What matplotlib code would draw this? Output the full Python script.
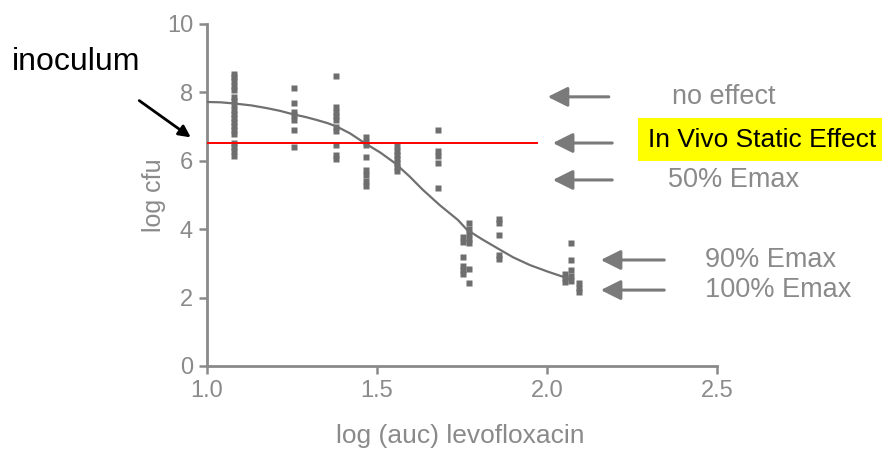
import matplotlib
matplotlib.use("Agg")
import matplotlib.pyplot as plt
from matplotlib.patches import FancyArrowPatch, Rectangle

plt.rcParams['font.family'] = ['Liberation Sans', 'DejaVu Sans']

GRAY = '#8a8a8a'
MARK = '#6e6e6e'

# measured log cfu per dose group (x = log auc)
group_x = [1.08, 1.256, 1.379, 1.468, 1.558, 1.68, 1.77, 1.752, 1.859, 2.07, 2.053, 2.094]
group_y = [
    [8.55, 8.44, 8.32, 8.2, 8.08, 7.86, 7.74, 7.62, 7.5, 7.38, 7.26, 7.14, 7.02, 6.9, 6.78,
     6.52, 6.4, 6.28, 6.15],
    [8.12, 7.7, 7.44, 7.34, 7.19, 6.9, 6.4],
    [8.49, 7.56, 7.44, 7.32, 7.2, 7.0, 6.88, 6.46, 6.17, 6.04],
    [6.7, 6.55, 6.46, 6.1, 5.73, 5.58, 5.4, 5.25],
    [6.42, 6.3, 6.18, 6.06, 5.94, 5.82, 5.7],
    [6.9, 6.3, 6.15, 5.93, 5.2],
    [4.17, 4.0, 3.85, 3.7, 3.6, 2.83, 2.42],
    [3.78, 3.62, 3.2, 2.93, 2.8, 2.68],
    [4.3, 4.18, 3.83, 3.24, 3.12],
    [3.6, 3.1, 2.8, 2.62, 2.5],
    [2.7, 2.58, 2.46],
    [2.42, 2.28, 2.15],
]

# fitted Emax curve
curve_x = [1.0, 1.04, 1.076, 1.13, 1.176, 1.215, 1.253, 1.29, 1.324, 1.355, 1.382, 1.421,
           1.465, 1.51, 1.553, 1.595, 1.635, 1.685, 1.738, 1.765, 1.81, 1.853, 1.9,
           1.95, 2.005, 2.059, 2.07]
curve_y = [7.72, 7.71, 7.68, 7.62, 7.54, 7.46, 7.36, 7.28, 7.19, 7.1, 7.0, 6.8,
           6.51, 6.24, 5.93, 5.55, 5.15, 4.7, 4.27, 3.98, 3.7, 3.45, 3.18,
           2.95, 2.75, 2.57, 2.53]

static_effect = 6.51

# right-hand reference arrows: (y, tip x, tail x, label, label x)
ref_y = [7.87, 6.52, 5.44, 3.1, 2.22]
ref_tip = [1.994, 2.009, 2.009, 2.15, 2.15]
ref_tail = [2.19, 2.2, 2.2, 2.353, 2.353]
ref_labels = ['no effect', None, '50% Emax', '90% Emax', '100% Emax']
ref_label_x = [2.368, None, 2.356, 2.465, 2.465]

fig = plt.figure(figsize=(8.82, 4.5), dpi=100)
ax = fig.add_axes([207 / 882, 84 / 450, 510 / 882, 342 / 450])

for gx, ys in zip(group_x, group_y):
    ax.plot([gx] * len(ys), ys, 's', ms=5, color=MARK, mec='none', zorder=2)

ax.plot(curve_x, curve_y, color='#707070', lw=1.6, zorder=3)
ax.plot([1.0, 1.97], [static_effect, static_effect], color='red', lw=1.4, zorder=4)

for y, tip, tail, lab, lx in zip(ref_y, ref_tip, ref_tail, ref_labels, ref_label_x):
    arr = FancyArrowPatch((tail, y), (tip, y), arrowstyle='-|>,head_length=12,head_width=6',
                          mutation_scale=1, color='#7a7a7a', lw=2.2, clip_on=False)
    ax.add_patch(arr)
    if lab:
        ax.text(lx, y, lab, fontsize=19.5, color=GRAY, va='center', ha='left', clip_on=False)

ax.set_xlim(1.0, 2.5)
ax.set_ylim(0, 10)
ax.set_xticks([1.0, 1.5, 2.0, 2.5])
ax.set_xticklabels(['1.0', '1.5', '2.0', '2.5'])
ax.set_yticks([0, 2, 4, 6, 8, 10])
for s in ['top', 'right']:
    ax.spines[s].set_visible(False)
for s in ['left', 'bottom']:
    ax.spines[s].set_color(GRAY)
    ax.spines[s].set_linewidth(2)
ax.tick_params(direction='out', length=6, width=1.8, color=GRAY, labelcolor=GRAY,
               labelsize=17, pad=4)
ax.set_xlabel('log (auc) levofloxacin', fontsize=19, color=GRAY)
ax.set_ylabel('log cfu', fontsize=18, color=GRAY)
ax.xaxis.set_label_coords(0.496, -0.17)
ax.yaxis.set_label_coords(-0.08, 0.5)

# yellow label box and inoculum annotation (figure pixels)
W, H = 882, 450
fig.patches.append(Rectangle((638 / W, 1 - 161 / H), 244 / W, 43 / H,
                             transform=fig.transFigure, facecolor='#ffff00',
                             edgecolor='none', zorder=5))
fig.text(648 / W, 1 - 140 / H, 'In Vivo Static Effect', fontsize=19, color='black',
         va='center', ha='left', zorder=6)
fig.text(12 / W, 1 - 62 / H, 'inoculum', fontsize=23, color='black', va='center', ha='left')
fig.patches.append(FancyArrowPatch((137 / W, 1 - 99 / H), (193 / W, 1 - 139 / H),
                                   transform=fig.transFigure,
                                   arrowstyle='-|>,head_length=7,head_width=3.5',
                                   mutation_scale=1, color='black', lw=2))

fig.savefig('out.png', dpi=100)
